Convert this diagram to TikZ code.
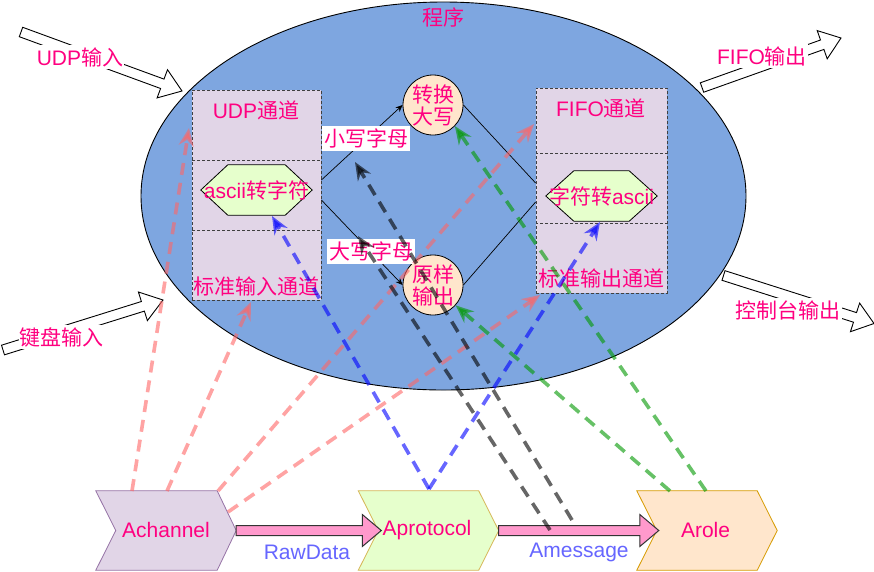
\documentclass[tikz,border=0pt]{standalone}
\usepackage{fontspec}
\setmainfont{Liberation Sans}
\newfontfamily\cjk{Noto Sans CJK SC}
\usetikzlibrary{arrows.meta,calc,shapes.geometric}
\definecolor{txtpink}{HTML}{FF0080}
\definecolor{ellfill}{HTML}{7EA6E0}
\definecolor{boxfill}{HTML}{E1D5E7}
\definecolor{hexfill}{HTML}{E6FFCC}
\definecolor{circfill}{HTML}{FFE6CC}
\definecolor{purpleb}{HTML}{9673A6}
\definecolor{goldb}{HTML}{D6B656}
\definecolor{orangeb}{HTML}{D79B00}
\definecolor{fatpink}{HTML}{FF99CC}
\definecolor{lblblue}{HTML}{6666FF}
\definecolor{dred}{HTML}{FF6666}
\definecolor{dblue}{HTML}{0000FF}
\definecolor{dblack}{HTML}{000000}
\definecolor{dgreen}{HTML}{009900}
\begin{document}
\begin{tikzpicture}[x=1pt,y=-1pt,
  txt/.style={text=txtpink, font=\fontsize{21}{22}\selectfont, inner sep=0},
  cjktxt/.style={text=txtpink, font=\fontsize{21}{22}\selectfont\cjk, inner sep=0},
  hollow/.style={draw=black, fill=white, line width=0.9pt, line join=miter},
  wlbl/.style={fill=white, inner xsep=1pt, inner ysep=2pt},
  cell/.style={draw=black!75, dash pattern=on 3pt off 2pt, fill=boxfill, inner sep=0, line width=0.8pt},
  hexframe/.style={minimum width=111, minimum height=50, inner sep=0},
  hexdraw/.style={draw=black, fill=hexfill, line width=0.8pt},
  conn/.style={draw=black, line width=0.7pt},
  connarr/.style={conn, -{Stealth[length=7pt,width=6pt]}},
  chevframe/.style={minimum width=140, minimum height=79, inner sep=0},
  fat/.style={draw=black!80, fill=fatpink, line width=1pt, line join=miter},
  dsh/.style={line width=3.6pt, dash pattern=on 12pt off 8pt, opacity=0.6, -{Stealth[length=18pt,width=15pt,inset=6pt]}},
]
\useasboundingbox (0,0) rectangle (874,571);
\fill[white] (0,0) rectangle (874,571);

% hollow arrows
\draw[hollow] (22.7,27.3) -- (164.0,79.1) -- (167.5,69.7) -- (182,91) -- (157.1,97.9) -- (160.6,88.5) -- (19.3,36.7) -- cycle;
\draw[hollow] (1.5,345.2) -- (141.4,301.5) -- (138.4,292.0) -- (163,300) -- (147.4,320.6) -- (144.4,311.1) -- (4.5,354.8) -- cycle;
\draw[hollow] (700.3,82.8) -- (820.5,40.0) -- (817.2,30.6) -- (841,38) -- (827.2,58.8) -- (823.9,49.4) -- (703.7,92.2) -- cycle;
\draw[hollow] (725,270.7) -- (856.5,312.6) -- (859.6,303.1) -- (874,323.5) -- (850.4,331.7) -- (853.5,322.2) -- (722,280.3) -- cycle;
\node[txt, wlbl] (udpin) at (80,57) {UDP{\cjk 输入}};
\node[cjktxt, wlbl] (kbin) at (61.5,337) {键盘输入};
\node[txt, wlbl] (fifoout) at (762,56) {FIFO{\cjk 输出}};
\node[cjktxt, wlbl] (conout) at (788,310) {控制台输出};

% program ellipse
\node[ellipse, draw=black, fill=ellfill, line width=0.9pt, minimum width=605, minimum height=388, inner sep=0] (prog) at (443.5,196) {};
\node[cjktxt] (title) at (443,17) {程序};

% left channel box
\node[cell, minimum width=129, minimum height=70] (lc1) at (256.5,125) {};
\node[cell, minimum width=129, minimum height=70] (lc2) at (256.5,195) {};
\node[cell, minimum width=129, minimum height=70] (lc3) at (256.5,265) {};
\node[txt] (udpch) at (256,110) {UDP{\cjk 通道}};
\node[cjktxt] (stdin) at (256,286) {标准输入通道};
\node[hexframe] (hexL) at (256.5,190) {};
\draw[hexdraw] (hexL.west) -- ($(hexL.north west)+(27,0)$) -- ($(hexL.north east)+(-27,0)$) -- (hexL.east) -- ($(hexL.south east)+(-27,0)$) -- ($(hexL.south west)+(27,0)$) -- cycle;
\node[txt] (hexLt) at (hexL) {ascii{\cjk 转字符}};

% right channel box
\node[cell, minimum width=131, minimum height=65] (rc1) at (601.5,120.5) {};
\node[cell, minimum width=131, minimum height=70] (rc2) at (601.5,188) {};
\node[cell, minimum width=131, minimum height=70] (rc3) at (601.5,258) {};
\node[txt] (fifoch) at (601,108) {FIFO{\cjk 通道}};
\node[cjktxt] (stdout) at (601,278) {标准输出通道};
\node[hexframe] (hexR) at (601.5,196) {};
\draw[hexdraw] (hexR.west) -- ($(hexR.north west)+(28,0)$) -- ($(hexR.north east)+(-28,0)$) -- (hexR.east) -- ($(hexR.south east)+(-28,0)$) -- ($(hexR.south west)+(28,0)$) -- cycle;
\node[txt] (hexRt) at (hexR) {{\cjk 字符转}ascii};

% circles
\node[circle, draw=black, fill=circfill, line width=0.8pt, minimum size=60, cjktxt, align=center] (c1) at (433,105) {转换\\大写};
\node[circle, draw=black, fill=circfill, line width=0.8pt, minimum size=60, cjktxt, align=center] (c2) at (433,285) {原样\\输出};

% internal connectors
\coordinate (p1) at ($(lc2.east)+(0,-15)$);
\coordinate (p2) at ($(lc2.east)+(0,5)$);
\coordinate (q1) at ($(rc2.west)+(0,-5)$);
\coordinate (q2) at ($(rc2.west)+(0,14)$);
\draw[connarr] (p1) -- (c1.west);
\draw[connarr] (p2) -- (c2.west);
\draw[conn] (c1.east) -- (q1);
\draw[conn] (c2.east) -- (q2);
\node[cjktxt, fill=white, minimum height=25, inner xsep=2pt] (lower) at (366,138.5) {小写字母};
\node[cjktxt, fill=white, minimum height=25, inner xsep=2pt] (upper) at (371,251.5) {大写字母};

% chevrons
\node[chevframe] (achF) at (166,530.5) {};
\draw[draw=purpleb, fill=boxfill, line width=0.8pt] (achF.north west) -- ($(achF.north east)+(-19,0)$) -- (achF.east) -- ($(achF.south east)+(-19,0)$) -- (achF.south west) -- ($(achF.west)+(20,0)$) -- cycle;
\node[txt] (ach) at (166,530) {Achannel};
\node[chevframe] (aprF) at (428.5,530.5) {};
\draw[draw=goldb, fill=hexfill, line width=0.8pt] (aprF.north west) -- ($(aprF.north east)+(-20,0)$) -- (aprF.east) -- ($(aprF.south east)+(-20,0)$) -- (aprF.south west) -- ($(aprF.west)+(20,0)$) -- cycle;
\node[txt] (apr) at (427,530) {Aprotocol};
\node[chevframe] (aroF) at (707,530.5) {};
\draw[draw=orangeb, fill=circfill, line width=0.8pt] (aroF.north west) -- ($(aroF.north east)+(-20,0)$) -- (aroF.east) -- ($(aroF.south east)+(-20,0)$) -- (aroF.south west) -- ($(aroF.west)+(20,0)$) -- cycle;
\node[txt] (aro) at (705.5,530) {Arole};

% fat arrows
\coordinate (fa1s) at (achF.east);
\coordinate (fa1e) at ($(aprF.west)+(23,0)$);
\draw[fat] ($(fa1s)+(0,-5)$) -- ($(fa1e)+(-19,-5)$) -- ($(fa1e)+(-19,-16)$) -- (fa1e) -- ($(fa1e)+(-19,16)$) -- ($(fa1e)+(-19,5)$) -- ($(fa1s)+(0,5)$) -- cycle;
\coordinate (fa2s) at (aprF.east);
\coordinate (fa2e) at ($(aroF.west)+(22,0)$);
\draw[fat] ($(fa2s)+(0,-5)$) -- ($(fa2e)+(-19,-5)$) -- ($(fa2e)+(-19,-16)$) -- (fa2e) -- ($(fa2e)+(-19,16)$) -- ($(fa2e)+(-19,5)$) -- ($(fa2s)+(0,5)$) -- cycle;
\node[txt, text=lblblue] (raw) at (307,552) {RawData};
\node[txt, text=lblblue] (amsg) at (579,552) {Amessage};

% dashed relations
\coordinate (ra1) at (132,491); \coordinate (rt1) at (189,128);
\coordinate (ra2) at (167,491); \coordinate (rt2) at (251,302);
\coordinate (ra3) at (218,491); \coordinate (rt3) at (534,124);
\coordinate (ra4) at (228,512); \coordinate (rt4) at (540,295);
\draw[dsh, dred] (ra1) -- (rt1);
\draw[dsh, dred] (ra2) -- (rt2);
\draw[dsh, dred] (ra3) -- (rt3);
\draw[dsh, dred] (ra4) -- (rt4);
\coordinate (ba) at (429,489);
\coordinate (bt1) at (272,216); \coordinate (bt2) at (600,222);
\draw[dsh, dblue] (ba) -- (bt1);
\draw[dsh, dblue] (ba) -- (bt2);
\coordinate (ka1) at (572,520); \coordinate (kt1) at (355,162);
\coordinate (ka2) at (550,530); \coordinate (kt2) at (358,236);
\draw[dsh, dblack] (ka1) -- (kt1);
\draw[dsh, dblack] (ka2) -- (kt2);
\coordinate (ga1) at (706,491); \coordinate (ga2) at (670,491);
\draw[dsh, dgreen] (ga1) -- (c1.-44);
\draw[dsh, dgreen] (ga2) -- (c2.-42);
\end{tikzpicture}
\end{document}
